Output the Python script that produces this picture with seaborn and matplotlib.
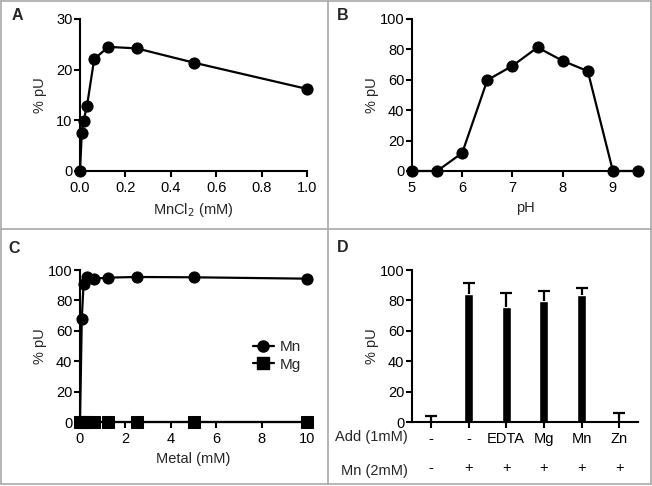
import matplotlib
matplotlib.use('Agg')
import matplotlib.pyplot as plt
from matplotlib.lines import Line2D
import seaborn as sns
import numpy as np
import pandas as pd

sns.set_style('ticks')
plt.rcParams['font.family'] = ['Liberation Sans', 'DejaVu Sans']
plt.rcParams['font.size'] = 10.5
plt.rcParams['axes.linewidth'] = 1.5
plt.rcParams['xtick.major.width'] = 1.5
plt.rcParams['ytick.major.width'] = 1.5
plt.rcParams['xtick.major.size'] = 4
plt.rcParams['ytick.major.size'] = 4
plt.rcParams['xtick.color'] = 'black'
plt.rcParams['ytick.color'] = 'black'
plt.rcParams['axes.edgecolor'] = 'black'

# A: MnCl2 titration
mncl2_mM = [0, 0.0078, 0.0156, 0.031, 0.0625, 0.125, 0.25, 0.5, 1.0]
pu_a = [0, 7.5, 9.9, 12.9, 22.1, 24.5, 24.2, 21.4, 16.2]

# B: pH profile
ph = [5, 5.5, 6, 6.5, 7, 7.5, 8, 8.5, 9, 9.5]
pu_b = [0, 0, 11.9, 59.8, 69.2, 81.3, 72.5, 65.7, 0, 0]

# C: metal titration
metal_mM = [0, 0.078, 0.156, 0.3125, 0.625, 1.25, 2.5, 5, 10]
pu_mn = [0, 67.5, 91, 95.4, 94.3, 95, 95.4, 95.2, 94.3]
pu_mg = [0, 0, 0, 0, 0, 0, 0, 0, 0]

# D: additions
add_labels = ['-', '-', 'EDTA', 'Mg', 'Mn', 'Zn']
mn_labels = ['-', '+', '+', '+', '+', '+']
pu_d = [0, 84, 75.8, 79.3, 83.7, 0]
err_d = [4.2, 7.2, 9.2, 6.7, 4.7, 5.9]

W, H = 652, 486
fig = plt.figure(figsize=(W / 100, H / 100), dpi=100)

def add_ax(left, top, right, bottom):
    return fig.add_axes([left / W, 1 - bottom / H, (right - left) / W, (bottom - top) / H])

ax_a = add_ax(80, 19, 307, 171)
ax_b = add_ax(412, 19, 638, 171)
ax_c = add_ax(80, 270, 307, 422)
ax_d = add_ax(412, 270, 638, 422)

line_kw = dict(color='black', linewidth=1.6, marker='o', markersize=8,
               markeredgecolor='black', markerfacecolor='black')

# A
sns.lineplot(x=mncl2_mM, y=pu_a, ax=ax_a, errorbar=None, sort=False, **line_kw)
ax_a.set_xlim(0, 1.0)
ax_a.set_ylim(0, 30)
ax_a.set_xticks(np.arange(0, 1.01, 0.2))
ax_a.set_xticklabels([f'{v:.1f}' for v in np.arange(0, 1.01, 0.2)])
ax_a.set_yticks([0, 10, 20, 30])
ax_a.set_xlabel('MnCl$_2$ (mM)')

# B
sns.lineplot(x=ph, y=pu_b, ax=ax_b, errorbar=None, sort=False, **line_kw)
ax_b.set_xlim(5, 9.5)
ax_b.set_ylim(0, 100)
ax_b.set_xticks([5, 6, 7, 8, 9])
ax_b.set_yticks(range(0, 101, 20))
ax_b.set_xlabel('pH')

# C
df_c = pd.DataFrame({
    'conc': metal_mM + metal_mM,
    'pu': pu_mn + pu_mg,
    'metal': ['Mn'] * len(metal_mM) + ['Mg'] * len(metal_mM),
})
sns.lineplot(data=df_c, x='conc', y='pu', hue='metal', style='metal',
             hue_order=['Mn', 'Mg'], style_order=['Mn', 'Mg'],
             markers={'Mn': 'o', 'Mg': 's'}, dashes=False,
             palette=['black', 'black'], errorbar=None, ax=ax_c,
             linewidth=1.6, markersize=8, markeredgecolor='black')
ax_c.set_xlim(0, 10)
ax_c.set_ylim(0, 100)
ax_c.set_xticks(range(0, 11, 2))
ax_c.set_yticks(range(0, 101, 20))
ax_c.set_xlabel('Metal (mM)')
handles = [Line2D([], [], color='black', lw=1.6, marker='o', markersize=8),
           Line2D([], [], color='black', lw=1.6, marker='s', markersize=8)]
ax_c.legend(handles, ['Mn', 'Mg'], frameon=False, loc='upper left',
            bbox_to_anchor=(0.7, 0.63), handlelength=1.4, handletextpad=0.4,
            labelspacing=0.25, fontsize=11)

# D
sns.barplot(x=list(range(len(pu_d))), y=pu_d, color='black', width=0.24,
            ax=ax_d, errorbar=None, saturation=1)
eb = ax_d.errorbar(range(len(pu_d)), pu_d, yerr=[np.zeros(len(err_d)), err_d],
                   fmt='none', ecolor='black', elinewidth=1.6, capsize=4, capthick=1.6)
eb[1][0].remove()  # keep only the upper caps
ax_d.set_xlim(-0.5, 5.5)
ax_d.set_ylim(0, 100)
ax_d.set_yticks(range(0, 101, 20))
ax_d.set_xticks(range(len(pu_d)))
ax_d.set_xticklabels([f'{a}\n{m}' for a, m in zip(add_labels, mn_labels)],
                     linespacing=2.35)
ax_d.tick_params(axis='x', pad=3)
ax_d.text(-0.02, -0.1, 'Add (1mM)', transform=ax_d.transAxes, ha='right', va='center')
ax_d.text(-0.02, -0.32, 'Mn (2mM)', transform=ax_d.transAxes, ha='right', va='center')

for ax in (ax_a, ax_b, ax_c, ax_d):
    sns.despine(ax=ax)
    ax.set_ylabel('% pU')
    ax.tick_params(axis='y', pad=1.5)
    for ln in ax.lines:
        ln.set_clip_on(False)
    for coll in ax.collections:
        coll.set_clip_on(False)
    ax.yaxis.set_label_coords(-0.145, 0.5)

# panel letters
for letter, (px, py) in zip('ABCD', [(17, 16), (343, 16), (14, 248), (343, 247)]):
    fig.text(px / W, 1 - py / H, letter, fontsize=11.5, fontweight='bold',
             ha='center', va='center')

# panel borders
gray = '#a8a8a8'
x0, x1, y0, y1 = 1 / W, 651 / W, 1 - 1 / H, 1 - 484 / H
for xs, ys in [([x0, x1], [y0, y0]), ([x0, x1], [y1, y1]),
               ([x0, x0], [y0, y1]), ([x1, x1], [y0, y1]),
               ([328 / W, 328 / W], [y0, y1]),
               ([x0, x1], [1 - 229 / H, 1 - 229 / H])]:
    fig.add_artist(Line2D(xs, ys, color=gray, linewidth=1.2, transform=fig.transFigure))

fig.savefig('out.png', dpi=100, facecolor='white')
